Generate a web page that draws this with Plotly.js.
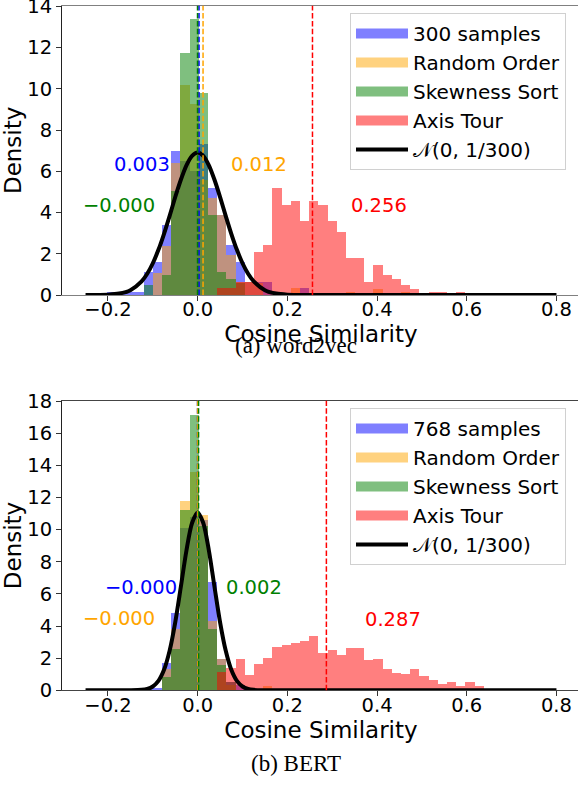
<!DOCTYPE html>
<html><head><meta charset="utf-8">
<script src="https://cdn.plot.ly/plotly-3.0.1.min.js"></script>
<style>html,body{margin:0;padding:0;overflow:hidden;background:#fff}#chart{width:582px;height:787px}</style>
</head><body><div id="chart"></div>
<script>
// ---- shared histogram bins ----
const binWidth = 0.0205;
const firstBinCenter = -0.19225;
const xTicks = [-0.2, 0.0, 0.2, 0.4, 0.6, 0.8];

// ---- (a) word2vec densities ----
const w2vSamples = [0.16,0.16,0.16,0.16,1.13,1.62,3.38,6.99,6.5,6.0,7.33,5.2,3.88,2.43,1.6,0.65,0.65,0.65,0,0,0,0.33];
const w2vRandom  = [0,0,0,0,0,1.08,2.39,6.39,10.2,9.27,5.6,4.7,3.88,1.94,0.65,0.65,0.6,0,0,0,0.33,0,0,0,0,0,0.16,0,0,0.3,0,0,0.15];
const w2vSkew    = [0,0,0,0,0.49,0,0.97,5.06,11.76,13.4,9.8,3.88,1.13,0.77,0.57];
const w2vTour    = [0,0,0,0,0,0,0,0,0,0,0,0,0.33,0.33,0.65,0.65,2.1,2.43,5.19,4.37,4.56,3.59,4.56,4.37,3.59,3.07,1.8,1.8,0.63,1.46,0.97,0.78,0.49,0.29,0,0.15,0.15,0,0.15];
const w2vMeans   = [0.003, 0.012, -0.0003, 0.256];
const w2vMeanLabels = ['0.003', '0.012', '\u22120.000', '0.256'];
const w2vLabelX  = [-0.125, 0.136, -0.175, 0.405];
const w2vLabelY  = [6.31, 6.31, 4.32, 4.32];
const w2vNormX = [-0.25,-0.2,-0.175,-0.15,-0.125,-0.1125,-0.1,-0.0875,-0.075,-0.0625,-0.05,-0.0375,-0.025,-0.0125,0,0.0125,0.025,0.0375,0.05,0.0625,0.075,0.0875,0.1,0.1125,0.125,0.15,0.175,0.2,0.25,0.8];
const w2vNormY = [0.0006,0.017,0.069,0.235,0.661,1.03,1.54,2.19,2.97,3.84,4.75,5.59,6.29,6.75,6.91,6.75,6.29,5.59,4.75,3.84,2.97,2.19,1.54,1.03,0.661,0.235,0.069,0.017,0.0006,0];

// ---- (b) BERT densities ----
const bertSamples = [0,0,0,0,0.06,0.12,1.7,4.8,10.1,10.8,10.57,6.77,1.93,0.5,0.3];
const bertRandom  = [0,0,0,0,0,0,1.35,3.83,11.75,13.57,10.88,4.29,1.93,0.3,0,0,0,0.25];
const bertSkew    = [0,0,0,0,0,0,0.83,2.59,11.25,17.15,10.25,3.83,1.6,0.5];
const bertTour    = [0,0,0,0,0,0,0,0,0,0,0,0,1.14,1.39,1.97,0.93,1.62,2.03,2.67,2.82,2.94,3.05,3.36,2.32,2.49,2.18,2.61,2.61,1.86,1.93,1.3,1.08,0.99,1.3,0.87,0.62,0.37,0.5,0.25,0.5,0.25,0,0,0,0.06,0.06];
const bertMeans   = [-0.0003, -0.0002, 0.002, 0.287];
const bertMeanLabels = ['\u22120.000', '\u22120.000', '0.002', '0.287'];
const bertLabelX  = [-0.126, -0.175, 0.125, 0.436];
const bertLabelY  = [6.38, 4.46, 6.38, 4.41];
const bertNormX = [-0.25,-0.2,-0.15,-0.125,-0.1125,-0.1,-0.0875,-0.075,-0.0625,-0.05,-0.0375,-0.025,-0.0125,0,0.0125,0.025,0.0375,0.05,0.0625,0.075,0.0875,0.1,0.1125,0.125,0.15,0.2,0.25,0.8];
const bertNormY = [0,0,0.002,0.0273,0.0856,0.237,0.584,1.275,2.47,4.23,6.44,8.70,10.41,11.06,10.41,8.70,6.44,4.23,2.47,1.275,0.584,0.237,0.0856,0.0273,0.002,0,0,0];

const seriesNamesA = ['300 samples', 'Random Order', 'Skewness Sort', 'Axis Tour'];
const seriesNamesB = ['768 samples', 'Random Order', 'Skewness Sort', 'Axis Tour'];
const normName = '\uD835\uDCA9(0, 1/300)';

const fills = ['rgba(0,0,255,0.5)', 'rgba(255,165,0,0.5)', 'rgba(0,128,0,0.5)', 'rgba(255,0,0,0.5)'];
const solids = ['#0000ff', '#ffa500', '#008000', '#ff0000'];

function hist(vals, i, xa, ya) {
  return {type:'bar', x0:firstBinCenter, dx:binWidth, y:vals, width:binWidth,
    marker:{color:fills[i], line:{width:0}}, xaxis:xa, yaxis:ya, showlegend:false, hoverinfo:'skip'};
}
function legendPatch(name, i, lg) {
  return {type:'scatter', mode:'lines', x:[null], y:[null], name:name,
    line:{color:fills[i], width:15}, legend:lg, showlegend:true, xaxis: lg==='legend'?'x':'x2', yaxis: lg==='legend'?'y':'y2'};
}

const traces = [];
[w2vSamples, w2vRandom, w2vSkew, w2vTour].forEach((v,i)=>traces.push(hist(v,i,'x','y')));
[bertSamples, bertRandom, bertSkew, bertTour].forEach((v,i)=>traces.push(hist(v,i,'x2','y2')));
seriesNamesA.forEach((n,i)=>traces.push(legendPatch(n,i,'legend')));
seriesNamesB.forEach((n,i)=>traces.push(legendPatch(n,i,'legend2')));
traces.push({type:'scatter', mode:'lines', x:w2vNormX, y:w2vNormY, name:normName,
  line:{color:'black', width:4, shape:'spline', smoothing:0.8}, xaxis:'x', yaxis:'y', legend:'legend'});
traces.push({type:'scatter', mode:'lines', x:bertNormX, y:bertNormY, name:normName,
  line:{color:'black', width:4, shape:'spline', smoothing:0.8}, xaxis:'x2', yaxis:'y2', legend:'legend2'});

const shapes = [];
w2vMeans.forEach((m,i)=>shapes.push({type:'line', xref:'x', yref:'y domain', x0:m, x1:m, y0:0, y1:1,
  line:{color:solids[i], width:1.5, dash:'5.5px,2.4px'}, layer:'above'}));
bertMeans.forEach((m,i)=>shapes.push({type:'line', xref:'x2', yref:'y2 domain', x0:m, x1:m, y0:0, y1:1,
  line:{color:solids[i], width:1.5, dash:'5.5px,2.4px'}, layer:'above'}));

// plot-area geometry (paper x is measured across the plot area)
const plotLeft = 62, plotWidth = 518;
const px = v => (v - plotLeft) / plotWidth;

const annotations = [];
w2vMeanLabels.forEach((t,i)=>annotations.push({xref:'x', yref:'y', x:w2vLabelX[i], y:w2vLabelY[i], text:t,
  showarrow:false, font:{color:solids[i], size:19.5}, xanchor:'center', yanchor:'middle'}));
bertMeanLabels.forEach((t,i)=>annotations.push({xref:'x2', yref:'y2', x:bertLabelX[i], y:bertLabelY[i], text:t,
  showarrow:false, font:{color:solids[i], size:19.5}, xanchor:'center', yanchor:'middle'}));
annotations.push({xref:'paper', yref:'paper', x:px(296), y:1-345/787, text:'(a) word2vec', showarrow:false,
  font:{family:'Liberation Serif', size:23, color:'black'}, xanchor:'center', yanchor:'middle'});
annotations.push({xref:'paper', yref:'paper', x:px(296), y:1-763/787, text:'(b) BERT', showarrow:false,
  font:{family:'Liberation Serif', size:23, color:'black'}, xanchor:'center', yanchor:'middle'});

function xax(anchor, lc) {
  return {anchor:anchor, domain:[0,1], range:[-0.3025,0.8525], tickvals:xTicks, tickformat:'.1f',
    ticks:'outside', ticklen:5, tickcolor:'#333', ticklabelstandoff:-8, ticklabeloverflow:'allow',
    showline:true, mirror:true, linecolor:lc, linewidth:1,
    showgrid:false, zeroline:false, automargin:false, title:{text:'Cosine Similarity', standoff:0}};
}
function yax(anchor, dom, top) {
  return {anchor:anchor, domain:dom, range:[0,top], dtick:2, tick0:0, ticks:'outside', ticklen:5, tickcolor:'#333',
    ticklabeloverflow:'allow',
    showline:true, mirror:true, linecolor:'#222', linewidth:1, showgrid:false, zeroline:false, automargin:false,
    title:{text:'Density', standoff:2}};
}

const legendStyle = {bgcolor:'rgba(255,255,255,0.8)', bordercolor:'#d0d0d0', borderwidth:1,
  font:{size:20, color:'black'}, xanchor:'left', yanchor:'top', itemwidth:52, tracegroupgap:0};

const layout = {
  width:582, height:787, margin:{l:plotLeft, r:582-plotLeft-plotWidth, t:0, b:0},
  paper_bgcolor:'white', plot_bgcolor:'white',
  font:{family:'DejaVu Sans', size:19.5, color:'black'},
  barmode:'overlay', bargap:0,
  xaxis: xax('y', '#808080'),
  yaxis: yax('x', [1-295/787, 1-5.7/787], 14.03),
  xaxis2: xax('y2', '#444'),
  yaxis2: yax('x2', [1-690.3/787, 1-400.7/787], 18.02),
  legend: Object.assign({x:px(350), y:1-13/787}, legendStyle),
  legend2: Object.assign({x:px(350), y:1-408/787}, legendStyle),
  shapes: shapes, annotations: annotations
};

Plotly.newPlot('chart', traces, layout, {staticPlot:true, displayModeBar:false});
</script></body></html>
